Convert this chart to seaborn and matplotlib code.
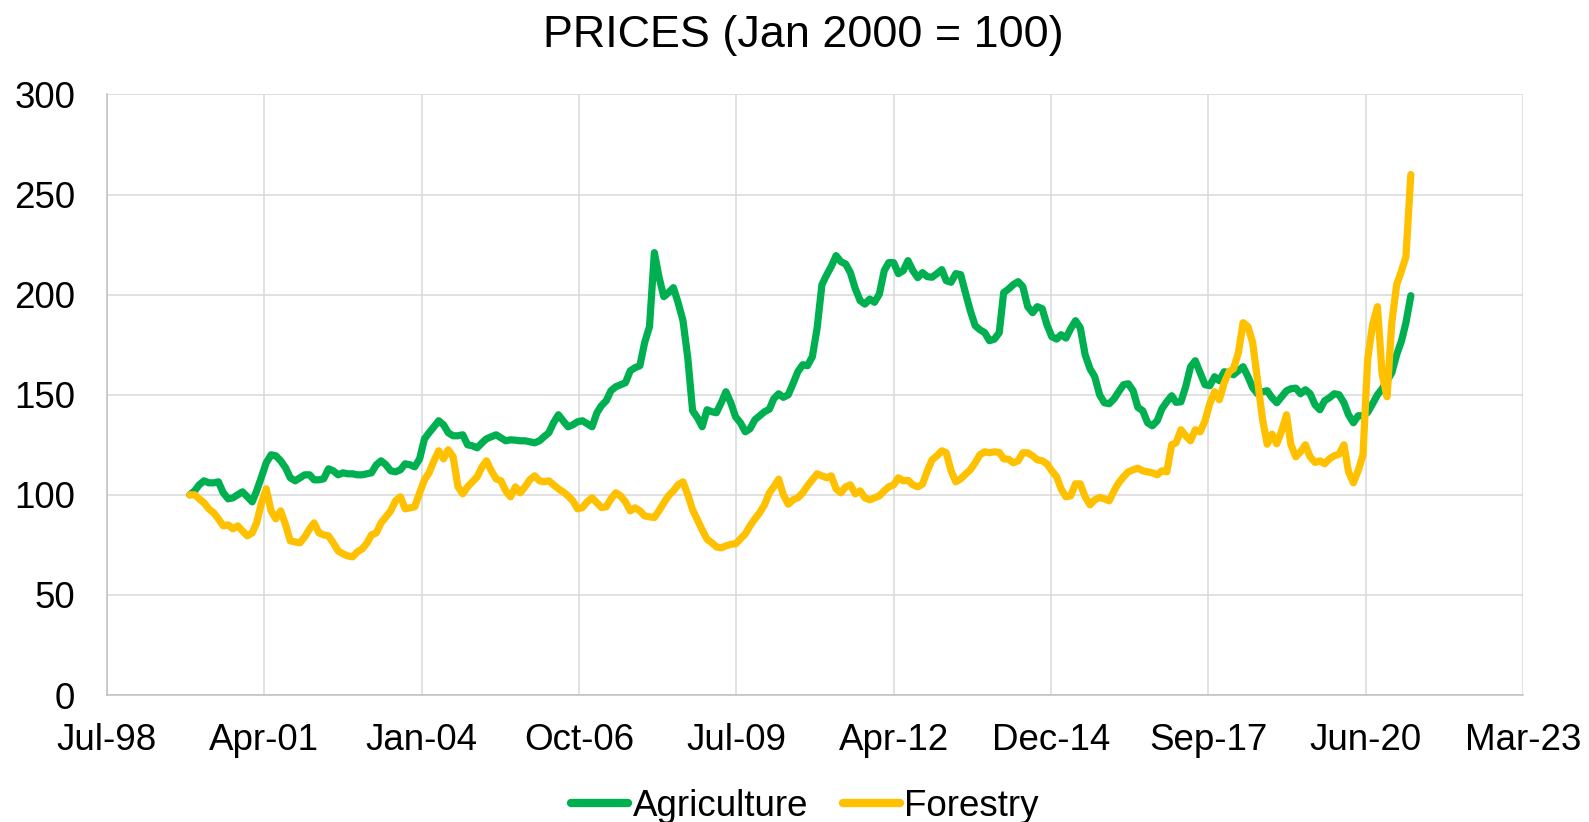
import numpy as np
import pandas as pd
import matplotlib
matplotlib.use("Agg")
import matplotlib.pyplot as plt
import matplotlib.dates as mdates
import seaborn as sns

# ---- data (monthly index, Jan 2000 = 100) ----
start_month = "2000-01-01"
series_names = ["Agriculture", "Forestry"]
series_colors = ["#00B050", "#FFC000"]

agriculture = [
    100, 102, 105, 107, 106, 106, 106.5, 101, 98, 98.5, 100, 101.5, 99, 96.5, 102, 109,
    116, 120, 119.5, 117, 113.5, 108.5, 107, 108.5, 110, 110, 107.5, 107.5, 108, 113, 112, 110,
    111, 110.5, 110.5, 110, 110, 110.5, 111, 115, 117, 115, 112, 111.5, 112.5, 115.5, 115, 114,
    118, 128, 131, 134, 137, 135, 131, 129.5, 129.5, 130, 125, 124.5, 123.5, 126, 128, 129,
    130, 128.5, 127, 127.5, 127.3, 127, 127, 126.5, 126, 127, 129, 131, 136, 140, 137, 134,
    135, 136.5, 137, 135.5, 134, 141, 144.5, 147, 152, 154, 155, 156, 162, 163.5, 164.5, 176,
    184, 221, 209, 199, 201, 203.5, 196, 187, 168, 142, 138.5, 134, 142.5, 141.5, 141, 146,
    151.5, 146, 139, 136, 131.5, 133, 137.5, 139.5, 141.5, 142.8, 148, 150.5, 148.7, 150, 155.5, 161.5,
    165, 164.5, 169, 183, 205, 210, 214, 219.5, 216.5, 215.3, 211, 203, 197, 195.3, 197.8, 196.2,
    200.3, 212, 216, 216, 210.5, 212, 217, 212, 208.5, 211, 209, 208.7, 210.5, 212.5, 207, 206.2,
    210.5, 210, 201, 192, 184.5, 182.5, 181, 177, 177.8, 181, 201, 202.8, 205, 206.5, 204, 194,
    191, 194, 193, 185, 179, 177.8, 180, 178.3, 183, 187, 183.5, 170, 163, 159, 150, 146,
    145.5, 148, 151.5, 155, 155.5, 152, 143.7, 142, 136, 134.5, 137, 143, 146.5, 149.5, 146.2, 146.5,
    154, 164, 167, 161, 155, 154.5, 159, 157, 161.5, 161, 160, 162, 164, 159, 153.5, 150.5,
    151.5, 152, 148.5, 146, 149, 152, 153, 153.3, 150.5, 152.5, 150.5, 145, 142.5, 147, 148.5, 150.5,
    150, 146, 140, 136, 139.5, 139.5, 141.2, 145.5, 150, 153, 157, 161, 170, 177, 186, 199.5,
]

forestry = [
    100, 100, 98, 96, 93, 91, 88, 84.5, 85, 83, 84.5, 82, 79.5, 81, 86, 96,
    103, 92, 88, 92, 85, 77, 76.5, 76, 79, 83, 86, 81, 80, 79.5, 76, 72,
    70.5, 69.5, 69, 71.5, 73, 76, 80, 81, 86, 89, 92, 97, 99, 93, 93.5, 94,
    101, 107.5, 111, 117, 122, 118, 122.5, 119, 104, 100.5, 104, 106.5, 109, 114, 117, 112,
    108, 107, 102, 99, 104, 101, 104, 107.5, 109.5, 107, 106.5, 107, 105, 103, 101.5, 99.5,
    97, 93, 93.7, 96.5, 98.5, 96, 93.7, 94, 98, 101, 99.5, 96.5, 92, 93.5, 92, 89.5,
    89, 88.7, 92, 96, 99.5, 102, 105, 106.5, 100, 92.5, 87.5, 82.5, 77.8, 76, 74, 73.5,
    74.5, 75.3, 75.5, 78, 80.5, 84.5, 88, 91, 95, 101, 104, 107.8, 100, 95.3, 97.5, 98.5,
    101, 104.5, 107.5, 110.5, 109.5, 108.5, 109.5, 103, 101, 104, 105, 100.5, 102, 98.5, 97.5, 98.5,
    99.5, 102, 104, 105, 108.5, 107, 107.3, 105, 104, 105.3, 112, 117.5, 119.5, 122, 121, 112,
    106.5, 108, 110.3, 112.5, 116, 120, 121.5, 121, 121.5, 121.2, 118, 117.8, 116, 117, 121, 121,
    119.5, 117.5, 117, 115.5, 112, 109, 103, 99, 99.5, 105.5, 105.5, 99, 95, 97.5, 98.7, 98,
    97, 102, 106, 109, 111.5, 112.5, 113.3, 112, 111.5, 111, 110, 112, 111.5, 125, 126, 132.5,
    129.5, 127, 132.5, 131.5, 137, 145.5, 151.5, 147.5, 156, 161.5, 163, 171, 186, 184, 176, 157,
    138, 125.3, 130.3, 125.5, 132, 140, 125, 119, 121.5, 125, 119, 116.2, 117, 115.5, 118, 119.5,
    120.3, 125, 111.5, 106, 112, 120, 168, 185, 194, 160, 149, 186, 205, 212, 219, 260,
]

y_ticks = [0, 50, 100, 150, 200, 250, 300]
x_tick_serials = [36000, 37000, 38000, 39000, 40000, 41000, 42000, 43000, 44000, 45000]
title_text = "PRICES (Jan 2000 = 100)"

# ---- build tidy frame ----
dates = pd.date_range(start_month, periods=len(agriculture), freq="MS")
df = pd.concat([
    pd.DataFrame({"date": dates, "value": agriculture, "series": series_names[0]}),
    pd.DataFrame({"date": dates, "value": forestry, "series": series_names[1]}),
], ignore_index=True)

excel_epoch = pd.Timestamp("1899-12-30")
x_ticks = [excel_epoch + pd.Timedelta(days=s) for s in x_tick_serials]

sns.set_style("white")
plt.rcParams["font.family"] = ["Liberation Sans", "DejaVu Sans"]

W, H = 1589, 822
fig = plt.figure(figsize=(W / 100, H / 100), dpi=100)
ax = fig.add_axes([107 / W, 1 - 695 / H, (1523 - 107) / W, (695 - 94.5) / H])

sns.lineplot(data=df, x="date", y="value", hue="series", hue_order=series_names,
             palette=dict(zip(series_names, series_colors)), linewidth=5.2,
             ax=ax, legend=True, solid_capstyle="round", solid_joinstyle="round")

ax.set_xlim(x_ticks[0], x_ticks[-1])
ax.set_ylim(0, 300)
ax.set_yticks(y_ticks)
ax.set_xticks(x_ticks)
ax.xaxis.set_major_formatter(mdates.DateFormatter("%b-%y"))
ax.set_xlabel("")
ax.set_ylabel("")

ax.grid(True, color="#d9d9d9", linewidth=1.1)
ax.set_axisbelow(True)
for s in ["top", "right"]:
    ax.spines[s].set_visible(False)
for s in ["left", "bottom"]:
    ax.spines[s].set_color("#bfbfbf")
    ax.spines[s].set_linewidth(1.1)

ax.tick_params(axis="both", length=0, labelsize=26.5, labelcolor="black")
ax.tick_params(axis="y", pad=23)
ax.tick_params(axis="x", pad=20)

handles, labels = ax.get_legend_handles_labels()
ax.get_legend().remove()
leg = fig.legend(handles, labels, loc="center", bbox_to_anchor=(805 / W, 1 - 806 / H),
                 ncol=2, frameon=False, fontsize=26.5, handlelength=1.55,
                 handletextpad=0.12, columnspacing=0.95, borderpad=0, borderaxespad=0,
                 labelcolor="black")
for h in leg.get_lines():
    h.set_linewidth(6)

fig.text(803 / W, 1 - 47 / H, title_text, ha="center", va="baseline", fontsize=32.3, color="black")

fig.savefig("out.png", dpi=100)
